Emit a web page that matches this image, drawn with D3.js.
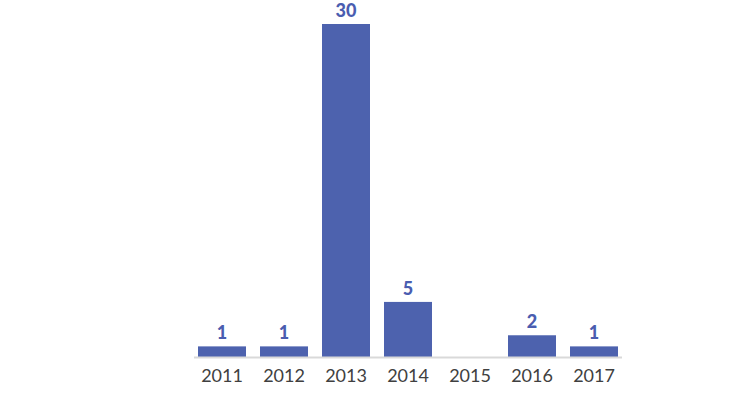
<!DOCTYPE html>
<html><head><meta charset="utf-8">
<script src="https://cdn.jsdelivr.net/npm/d3@7"></script>
<style>html,body{margin:0;padding:0;background:#fff;}svg{display:block;}</style>
</head><body>
<script>
const categories = ["2011","2012","2013","2014","2015","2016","2017"];
const values = [1, 1, 30, 5, 0, 2, 1];

const W = 746, H = 400;
const svg = d3.select("body").append("svg").attr("width", W).attr("height", H);

const data = categories.map((c, i) => ({ cat: c, val: values[i] }));

const x = d3.scaleBand().domain(categories).range([191, 625])
  .paddingInner(14/62).paddingOuter(7/62);
const y = d3.scaleLinear().domain([0, 30]).range([357.5, 24]);

svg.selectAll("rect.bar").data(data).join("rect")
  .attr("class","bar")
  .attr("x", d => x(d.cat))
  .attr("width", x.bandwidth())
  .attr("y", d => y(d.val))
  .attr("height", d => y(0) - y(d.val))
  .attr("fill", "#4d62ae");

const axis = svg.append("g").attr("transform", `translate(0,${y(0)})`)
  .call(d3.axisBottom(x).tickSize(0).tickPadding(12));
axis.select(".domain").attr("stroke", "#d9d9d9").attr("stroke-width", 2)
  .attr("d", `M${x.range()[0]+3},0H${x.range()[1]-3}`);
axis.selectAll(".tick text").attr("font-family", "Lato, sans-serif")
  .attr("font-size", 18).attr("fill", "#404040");

svg.selectAll("text.val").data(data.filter(d => d.val > 0)).join("text")
  .attr("class","val")
  .attr("x", d => x(d.cat) + x.bandwidth()/2)
  .attr("y", d => y(d.val) - 7)
  .attr("text-anchor", "middle")
  .attr("font-family", "Lato, sans-serif")
  .attr("font-weight", 900)
  .attr("font-size", 18)
  .attr("fill", "#4a5db0")
  .text(d => d.val);
</script>
</body></html>
